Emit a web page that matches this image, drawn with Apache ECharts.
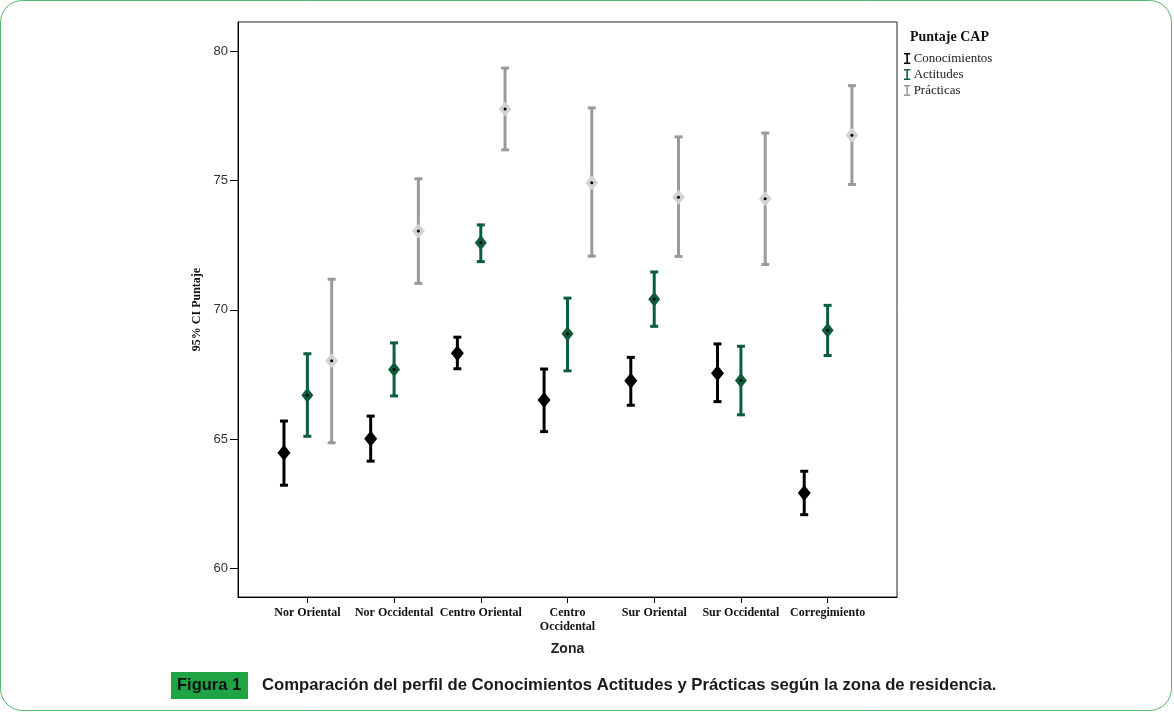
<!DOCTYPE html>
<html>
<head>
<meta charset="utf-8">
<script src="https://cdn.jsdelivr.net/npm/echarts@6/dist/echarts.min.js"></script>
<style>
  html, body { margin: 0; padding: 0; background: #fff; }
  #chart { width: 1174px; height: 713px; }
</style>
</head>
<body>
<div id="chart"></div>
<script>
// zonas de residencia
const zonas = ['Nor Oriental', 'Nor Occidental', 'Centro Oriental', 'Centro\nOccidental', 'Sur Oriental', 'Sur Occidental', 'Corregimiento'];
const yTicks = [60, 65, 70, 75, 80];

// media e IC 95% por grupo
const conocMedia = [64.47, 65.02, 68.32, 66.51, 67.26, 67.55, 62.92];
const conocInf = [63.22, 64.15, 67.72, 65.29, 66.31, 66.45, 62.08];
const conocSup = [65.70, 65.89, 68.94, 67.71, 68.16, 68.68, 63.76];

const actMedia = [66.70, 67.69, 72.59, 69.07, 70.41, 67.27, 69.21];
const actInf = [65.11, 66.67, 71.86, 67.64, 69.36, 65.94, 68.23];
const actSup = [68.30, 68.72, 73.28, 70.45, 71.46, 68.59, 70.17];

const pracMedia = [68.03, 73.04, 77.76, 74.91, 74.35, 74.29, 76.74];
const pracInf = [64.86, 71.02, 76.18, 72.07, 72.06, 71.75, 74.84];
const pracSup = [71.18, 75.06, 79.34, 77.80, 76.68, 76.83, 78.66];

const serif = '"Liberation Serif", "DejaVu Serif", serif';
const sans = '"Liberation Sans", Arial, sans-serif';

// desplazamiento horizontal de cada grupo dentro de la zona
const offsets = { Conocimientos: -0.27, Actitudes: 0, 'Prácticas': 0.28 };

function barData(name, inf, sup) {
  return zonas.map((z, i) => [i + 1 + offsets[name], inf[i], sup[i]]);
}
function pointData(name, media) {
  return zonas.map((z, i) => [i + 1 + offsets[name], media[i]]);
}

function errorBar(color, width) {
  return function (params, api) {
    const lo = api.coord([api.value(0), api.value(1)]);
    const hi = api.coord([api.value(0), api.value(2)]);
    const cap = 4;
    const style = { stroke: color, lineWidth: width };
    return {
      type: 'group',
      children: [
        { type: 'line', shape: { x1: lo[0], y1: lo[1], x2: hi[0], y2: hi[1] }, style: style },
        { type: 'line', shape: { x1: lo[0] - cap, y1: lo[1], x2: lo[0] + cap, y2: lo[1] }, style: style },
        { type: 'line', shape: { x1: hi[0] - cap, y1: hi[1], x2: hi[0] + cap, y2: hi[1] }, style: style }
      ]
    };
  };
}

const green = '#0d5c3b';
const gray = '#9a9a9a';
const ibeam = 'path://M0,0H8V2H5V12H8V14H0V12H3V2H0Z';

const chart = echarts.init(document.getElementById('chart'));
const option = {
  animation: false,
  title: {
    text: 'Puntaje CAP',
    left: 905,
    top: 25,
    textStyle: { fontFamily: serif, fontWeight: 'bold', fontSize: 14, color: '#111' }
  },
  legend: {
    orient: 'vertical',
    left: 899,
    top: 47,
    itemWidth: 7,
    itemHeight: 11,
    itemGap: 3,
    selectedMode: false,
    data: [
      { name: 'Conocimientos', icon: ibeam },
      { name: 'Actitudes', icon: ibeam },
      { name: 'Prácticas', icon: ibeam }
    ],
    textStyle: { fontFamily: serif, fontSize: 13, color: '#222', padding: [0, 0, 0, -2] }
  },
  grid: {
    left: 238, top: 22, right: 277, bottom: 116,
    show: true, borderColor: '#222', borderWidth: 1
  },
  xAxis: {
    type: 'value',
    min: 0.2,
    max: 7.8,
    name: 'Zona',
    nameLocation: 'middle',
    nameGap: 45,
    nameTextStyle: { fontFamily: sans, fontWeight: 'bold', fontSize: 14, color: '#222' },
    axisLine: { lineStyle: { color: '#000' } },
    axisTick: { customValues: [1, 2, 3, 4, 5, 6, 7], length: 6, lineStyle: { color: '#000' } },
    axisLabel: {
      customValues: [1, 2, 3, 4, 5, 6, 7],
      formatter: v => zonas[Math.round(v) - 1],
      margin: 9,
      fontFamily: serif,
      fontWeight: 'bold',
      fontSize: 12,
      lineHeight: 14,
      color: '#111'
    },
    splitLine: { show: false }
  },
  yAxis: {
    type: 'value',
    min: 58.9,
    max: 81.12,
    name: '95% CI Puntaje',
    nameLocation: 'middle',
    nameGap: 29,
    nameTextStyle: { fontFamily: serif, fontWeight: 'bold', fontSize: 12, color: '#111' },
    axisLine: { show: true, lineStyle: { color: '#000' } },
    axisTick: { show: true, customValues: yTicks, length: 8, lineStyle: { color: '#000' } },
    axisLabel: {
      customValues: yTicks,
      margin: 10,
      fontFamily: sans,
      fontSize: 13,
      color: '#333'
    },
    splitLine: { show: false }
  },
  series: [
    {
      name: 'Conocimientos', type: 'custom', color: '#000',
      renderItem: errorBar('#000', 3),
      data: barData('Conocimientos', conocInf, conocSup), z: 2
    },
    {
      name: 'Actitudes', type: 'custom', color: green,
      renderItem: errorBar(green, 3),
      data: barData('Actitudes', actInf, actSup), z: 2
    },
    {
      name: 'Prácticas', type: 'custom', color: gray,
      renderItem: errorBar(gray, 3),
      data: barData('Prácticas', pracInf, pracSup), z: 2
    },
    {
      name: 'Conocimientos', type: 'scatter', symbol: 'diamond', symbolSize: [13, 16],
      itemStyle: { color: '#000', opacity: 1 },
      data: pointData('Conocimientos', conocMedia), z: 3
    },
    {
      name: 'Actitudes', type: 'scatter', symbol: 'diamond', symbolSize: [12, 15],
      itemStyle: { color: green, opacity: 1 },
      data: pointData('Actitudes', actMedia), z: 3
    },
    {
      name: 'Prácticas', type: 'scatter', symbol: 'diamond', symbolSize: [13, 15],
      itemStyle: { color: '#d2d2d2', opacity: 1 },
      data: pointData('Prácticas', pracMedia), z: 3
    },
    {
      name: 'centro', type: 'scatter', symbol: 'circle', symbolSize: 3,
      itemStyle: { color: '#000', opacity: 1 },
      data: pointData('Actitudes', actMedia).concat(pointData('Prácticas', pracMedia)), z: 4
    }
  ],
  graphic: [
    {
      type: 'rect', silent: true,
      shape: { x: 0.5, y: 0.5, width: 1171, height: 710, r: 22 },
      style: { fill: 'none', stroke: '#52b96c', lineWidth: 1 }
    },
    {
      type: 'rect', silent: true,
      shape: { x: 171, y: 672, width: 77, height: 27 },
      style: { fill: '#1fa445' }
    },
    {
      type: 'text', left: 177, top: 677,
      style: { text: 'Figura 1', font: 'bold 16.5px ' + sans, fill: '#111' }
    },
    {
      type: 'text', left: 262, top: 677,
      style: { text: 'Comparación del perfil de Conocimientos Actitudes y Prácticas según la zona de residencia.', font: 'bold 16.7px ' + sans, fill: '#1a1a1a' }
    }
  ]
};
chart.setOption(option);
</script>
</body>
</html>
